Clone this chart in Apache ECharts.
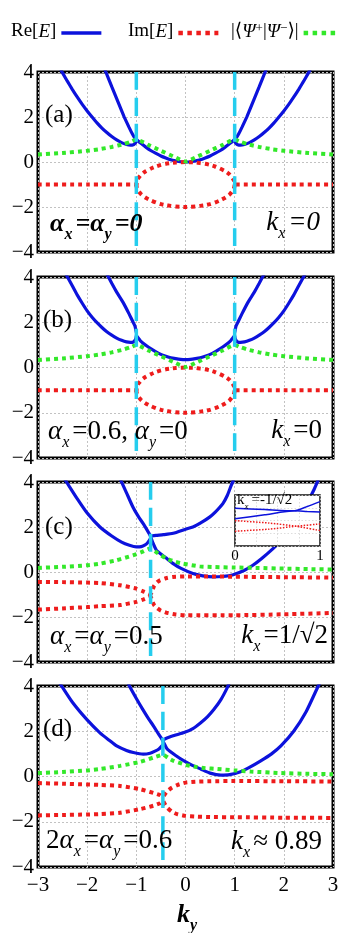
<!DOCTYPE html>
<html><head><meta charset="utf-8">
<script src="https://cdn.jsdelivr.net/npm/echarts@6/dist/echarts.min.js"></script>
<style>html,body{margin:0;padding:0;background:#fff}#c{width:356px;height:933px}</style>
</head><body><div id="c"></div>
<script>
// ---------- tick labels ----------
const xTicks = [-3, -2, -1, 0, 1, 2, 3];
const yTicks = [-4, -2, 0, 2, 4];
const insetTicks = [0, 1];

// ---------- panel (a) ----------
const aReOutL = [[-2.6,4.36],[-2.5,3.96],[-2.4,3.58],[-2.3,3.22],[-2.2,2.88],[-2.1,2.56],[-2.0,2.27],[-1.9,2.0],[-1.8,1.74],[-1.7,1.51],[-1.6,1.31],[-1.5,1.13],[-1.4,0.98],[-1.3,0.86],[-1.2,0.78],[-1.12,0.75],[-1.06,0.77],[-1.03,0.82],[-1.01,0.88],[-1.0,1.0]];
const aReOutR = [[1.0,1.0],[1.01,0.88],[1.03,0.82],[1.06,0.77],[1.12,0.75],[1.2,0.78],[1.3,0.86],[1.4,0.98],[1.5,1.13],[1.6,1.31],[1.7,1.51],[1.8,1.74],[1.9,2.0],[2.0,2.27],[2.1,2.56],[2.2,2.88],[2.3,3.22],[2.4,3.58],[2.5,3.96],[2.6,4.36]];
const aReInL = [[-1.68,4.3],[-1.62,4.0],[-1.5,3.35],[-1.4,2.82],[-1.3,2.28],[-1.25,2.02],[-1.15,1.55],[-1.08,1.24],[-1.04,1.1],[-1.0,1.0]];
const aReMid = [[-1.0,1.0],[-0.9,0.82],[-0.8,0.65],[-0.7,0.5],[-0.6,0.38],[-0.5,0.27],[-0.4,0.18],[-0.3,0.1],[-0.2,0.05],[-0.1,0.01],[0,0],[0.1,0.01],[0.2,0.05],[0.3,0.1],[0.4,0.18],[0.5,0.27],[0.6,0.38],[0.7,0.5],[0.8,0.65],[0.9,0.82],[1.0,1.0]];
const aReInR = [[1.0,1.0],[1.04,1.1],[1.08,1.24],[1.15,1.55],[1.25,2.02],[1.3,2.28],[1.4,2.82],[1.5,3.35],[1.62,4.0],[1.68,4.3]];
const aImUp = [[-3,-1],[-2,-1],[-1,-1],[-0.99,-0.86],[-0.97,-0.76],[-0.95,-0.69],[-0.9,-0.56],[-0.85,-0.47],[-0.8,-0.4],[-0.7,-0.29],[-0.6,-0.2],[-0.5,-0.13],[-0.4,-0.08],[-0.3,-0.05],[-0.2,-0.02],[-0.1,-0.01],[0,0],[0.1,-0.01],[0.2,-0.02],[0.3,-0.05],[0.4,-0.08],[0.5,-0.13],[0.6,-0.2],[0.7,-0.29],[0.8,-0.4],[0.85,-0.47],[0.9,-0.56],[0.95,-0.69],[0.97,-0.76],[0.99,-0.86],[1,-1],[2,-1],[3,-1]];
const aImDn = [[-1,-1],[-0.99,-1.14],[-0.97,-1.24],[-0.95,-1.31],[-0.9,-1.44],[-0.85,-1.53],[-0.8,-1.6],[-0.7,-1.71],[-0.6,-1.8],[-0.5,-1.87],[-0.4,-1.92],[-0.3,-1.95],[-0.2,-1.98],[-0.1,-1.99],[0,-2],[0.1,-1.99],[0.2,-1.98],[0.3,-1.95],[0.4,-1.92],[0.5,-1.87],[0.6,-1.8],[0.7,-1.71],[0.8,-1.6],[0.85,-1.53],[0.9,-1.44],[0.95,-1.31],[0.97,-1.24],[0.99,-1.14],[1,-1]];
const aOv = [[-3,0.33],[-2.5,0.4],[-2,0.5],[-1.75,0.57],[-1.5,0.67],[-1.25,0.8],[-1.1,0.91],[-1,1.0],[-0.75,0.75],[-0.5,0.5],[-0.25,0.25],[0,0.02],[0.25,0.25],[0.5,0.5],[0.75,0.75],[1,1.0],[1.1,0.91],[1.25,0.8],[1.5,0.67],[1.75,0.57],[2,0.5],[2.5,0.4],[3,0.33]];
const aEP = [-1, 1];

// ---------- panel (b) ----------
const bReOutL = [[-2.45,4.2],[-2.4,4.0],[-2.3,3.6],[-2.2,3.2],[-2.1,2.84],[-2.0,2.5],[-1.9,2.22],[-1.8,1.98],[-1.7,1.77],[-1.6,1.58],[-1.5,1.43],[-1.4,1.3],[-1.3,1.2],[-1.2,1.13],[-1.12,1.11],[-1.06,1.13],[-1.03,1.2],[-1.01,1.28],[-1.0,1.4]];
const bReOutR = [[1.0,1.4],[1.01,1.28],[1.03,1.2],[1.06,1.13],[1.12,1.11],[1.2,1.13],[1.3,1.2],[1.4,1.3],[1.5,1.43],[1.6,1.58],[1.7,1.77],[1.8,1.98],[1.9,2.22],[2.0,2.5],[2.1,2.84],[2.2,3.2],[2.3,3.6],[2.4,4.0],[2.45,4.2]];
const bReInL = [[-1.64,4.3],[-1.58,4.05],[-1.5,3.72],[-1.4,3.33],[-1.27,2.88],[-1.15,2.38],[-1.07,2.02],[-1.03,1.85],[-1.0,1.55]];
const bReMid = [[-1.0,1.42],[-0.9,1.14],[-0.8,0.97],[-0.7,0.82],[-0.6,0.69],[-0.5,0.58],[-0.4,0.5],[-0.3,0.43],[-0.2,0.39],[-0.1,0.36],[0,0.35],[0.1,0.36],[0.2,0.39],[0.3,0.43],[0.4,0.5],[0.5,0.58],[0.6,0.69],[0.7,0.82],[0.8,0.97],[0.9,1.14],[1.0,1.42]];
const bReInR = [[1.0,1.55],[1.03,1.85],[1.07,2.02],[1.15,2.38],[1.27,2.88],[1.4,3.33],[1.5,3.72],[1.58,4.05],[1.64,4.3]];
const bImUp = aImUp, bImDn = aImDn, bOv = aOv;   // identical in the figure
const bEP = [-1, 1];

// ---------- panel (c) ----------
const cReA = [[-2.5,4.27],[-2.42,4.0],[-2.2,3.25],[-2.0,2.62],[-1.74,2.0],[-1.5,1.6],[-1.3,1.33],[-1.14,1.19],[-1.0,1.12],[-0.9,1.13],[-0.83,1.19],[-0.77,1.3],[-0.71,1.5]];
const cReB = [[-1.36,4.3],[-1.31,4.05],[-1.2,3.52],[-1.07,2.89],[-0.96,2.47],[-0.86,2.15],[-0.78,1.86],[-0.72,1.63],[-0.66,1.28],[-0.59,0.96],[-0.5,0.8],[-0.4,0.63],[-0.25,0.37],[-0.1,0.17],[0.15,-0.07],[0.35,-0.17],[0.56,-0.22],[0.75,-0.2],[0.97,-0.12],[1.2,0.08],[1.37,0.3],[1.55,0.6],[1.78,1.04],[2.0,1.5],[2.2,2.05],[2.4,2.75],[2.6,3.6],[2.7,4.1],[2.75,4.35]];
const cReC = [[-0.71,1.6],[-0.6,1.63],[-0.45,1.66],[-0.25,1.72],[0,1.9],[0.15,2.0],[0.3,2.17],[0.49,2.44],[0.6,2.65],[0.76,3.04],[0.85,3.4],[0.93,3.85],[0.98,4.1]];
const cImUp = [[-3,-0.44],[-2.5,-0.45],[-2,-0.47],[-1.74,-0.49],[-1.33,-0.59],[-1,-0.74],[-0.85,-0.87],[-0.76,-0.95],[-0.71,-0.99],[-0.68,-0.85],[-0.64,-0.62],[-0.58,-0.46],[-0.52,-0.37],[-0.4,-0.28],[-0.26,-0.22],[0,-0.2],[0.5,-0.2],[1,-0.21],[2,-0.23],[3,-0.25]];
const cImDn = [[-3,-1.67],[-2.5,-1.62],[-2,-1.56],[-1.74,-1.52],[-1.33,-1.47],[-1,-1.33],[-0.85,-1.22],[-0.76,-1.14],[-0.71,-1.1],[-0.68,-1.28],[-0.64,-1.46],[-0.58,-1.6],[-0.5,-1.72],[-0.35,-1.83],[-0.2,-1.89],[0,-1.92],[1,-1.92],[2,-1.88],[3,-1.82]];
const cOv = [[-3,0.18],[-2.5,0.23],[-2,0.3],[-1.74,0.37],[-1.41,0.52],[-1.07,0.74],[-0.9,0.88],[-0.72,1.04],[-0.55,0.82],[-0.39,0.6],[-0.2,0.45],[-0.05,0.37],[0.29,0.25],[0.6,0.22],[0.96,0.2],[1.5,0.18],[2,0.15],[2.5,0.13],[3,0.11]];
const cEP = [-0.71];

// inset of (c)
const insReUp = [[0,0.96],[0.35,0.86],[0.7,0.76],[0.85,1.1],[1,1.48]];
const insReDn = [[0,0.14],[0.35,0.45],[0.7,0.76],[0.85,0.7],[1,0.66]];
const insImA = [[0,-0.01],[0.4,-0.2],[0.72,-0.45],[1,-0.79]];
const insImB = [[0,-0.84],[0.4,-0.68],[0.72,-0.45],[1,-0.27]];

// ---------- panel (d) ----------
const dReA = [[-2.62,4.35],[-2.52,4.0],[-2.3,3.28],[-2.0,2.5],[-1.74,1.93],[-1.55,1.6],[-1.4,1.35],[-1.2,1.15],[-1.06,1.06],[-0.86,0.99],[-0.72,1.03],[-0.62,1.12],[-0.54,1.22],[-0.46,1.4]];
const dReB = [[-1.2,4.3],[-1.14,4.0],[-1.0,3.45],[-0.87,2.97],[-0.75,2.55],[-0.65,2.23],[-0.55,1.88],[-0.48,1.65],[-0.42,1.4],[-0.37,1.21],[-0.2,0.93],[-0.03,0.69],[0.15,0.48],[0.31,0.33],[0.5,0.15],[0.72,0.06],[0.9,0.08],[1.12,0.21],[1.3,0.4],[1.53,0.69],[1.75,1.0],[1.94,1.35],[2.2,2.0],[2.45,2.85],[2.7,4.0],[2.78,4.35]];
const dReC = [[-0.46,1.62],[-0.35,1.72],[-0.2,1.83],[-0.03,1.94],[0.15,2.12],[0.31,2.38],[0.45,2.65],[0.58,2.97],[0.72,3.4],[0.85,3.93],[0.9,4.2]];
const dImUp = [[-3,-0.29],[-2.5,-0.32],[-2,-0.35],[-1.74,-0.37],[-1.33,-0.42],[-0.92,-0.56],[-0.65,-0.73],[-0.52,-0.82],[-0.46,-0.9],[-0.42,-0.78],[-0.37,-0.65],[-0.28,-0.5],[-0.17,-0.38],[0,-0.27],[0.2,-0.23],[0.5,-0.21],[1,-0.2],[2,-0.21],[3,-0.22]];
const dImDn = [[-3,-1.72],[-2.5,-1.7],[-2,-1.68],[-1.74,-1.66],[-1.33,-1.6],[-0.92,-1.44],[-0.65,-1.29],[-0.52,-1.18],[-0.46,-1.08],[-0.42,-1.22],[-0.37,-1.38],[-0.28,-1.55],[-0.17,-1.66],[0,-1.74],[0.2,-1.77],[0.5,-1.79],[1,-1.8],[2,-1.82],[3,-1.83]];
const dOv = [[-3,0.15],[-2.5,0.2],[-2,0.27],[-1.74,0.33],[-1.33,0.47],[-0.92,0.65],[-0.65,0.84],[-0.46,0.96],[-0.35,0.82],[-0.24,0.69],[0,0.52],[0.17,0.44],[0.4,0.37],[0.65,0.33],[1.0,0.27],[1.33,0.22],[1.94,0.15],[2.5,0.12],[3,0.1]];
const dEP = [-0.46];

// ---------- styling ----------
const FONT = "'Liberation Serif', 'DejaVu Serif', serif";
const BLUE = '#0c12dc', RED = '#ee1c1c', GREEN = '#33e82a', CYAN = '#25cdee';
const grids = [
  {left: 38, top: 72, width: 295, height: 180},
  {left: 38, top: 277, width: 295, height: 181},
  {left: 38, top: 482, width: 295, height: 180},
  {left: 38, top: 686, width: 295, height: 181}
];
const minus = v => String(v).replace('-', '\u2212');
const gridLine = {show: true, lineStyle: {color: '#c2c2c2', width: 1, type: [2, 2]}};

const option = {
  animation: false,
  backgroundColor: '#fff',
  textStyle: {fontFamily: FONT},
  grid: grids.map(g => Object.assign({show: true, borderColor: '#000', borderWidth: 3, backgroundColor: 'transparent'}, g))
    .concat([{left: 235, top: 495, width: 85, height: 51, show: true, borderColor: '#111', borderWidth: 1.5, backgroundColor: '#fff', z: 10}]),
  xAxis: grids.map((g, i) => ({
    type: 'value', gridIndex: i, min: xTicks[0], max: xTicks[xTicks.length - 1], interval: 1,
    axisLine: {show: false}, axisTick: {show: false}, splitLine: gridLine,
    axisLabel: {show: i === 3, fontFamily: FONT, fontSize: 21, color: '#000', margin: 8, formatter: minus}
  })).concat([{
    type: 'value', gridIndex: 4, min: 0, max: 1, interval: 0.25, z: 11,
    axisLine: {show: false}, axisTick: {show: false},
    splitLine: {show: true, lineStyle: {color: '#d4d4d4', width: 0.8, type: [1.5, 2]}},
    axisLabel: {fontFamily: FONT, fontSize: 15, color: '#000', margin: 3,
      formatter: v => insetTicks.indexOf(v) >= 0 ? String(v) : ''}
  }]),
  yAxis: grids.map((g, i) => ({
    type: 'value', gridIndex: i, min: yTicks[0], max: yTicks[yTicks.length - 1], interval: 2,
    axisLine: {show: false}, axisTick: {show: false}, splitLine: gridLine,
    axisLabel: {fontFamily: FONT, fontSize: 21, color: '#000', margin: 4, formatter: minus}
  })).concat([{
    type: 'value', gridIndex: 4, min: -2, max: 2, interval: 1, z: 11,
    axisLine: {show: false}, axisTick: {show: false}, axisLabel: {show: false},
    splitLine: {show: true, lineStyle: {color: '#d4d4d4', width: 0.8, type: [1.5, 2]}}
  }]),
  legend: [],
  series: [],
  graphic: []
};

function ln(g, name, data, color, width, type, z) {
  return {type: 'line', name: name, xAxisIndex: g, yAxisIndex: g, data: data,
    symbol: 'none', showSymbol: false, smooth: 0.2, clip: true, silent: true, z: z || 3,
    lineStyle: {color: color, width: width, type: type, cap: 'butt'}, itemStyle: {color: color}};
}
const RE = 'Re', IM = 'Im', OV = 'Ov';
const dots = [4, 4];
function panel(g, reList, imList, ov, eps) {
  reList.forEach(d => option.series.push(ln(g, RE, d, BLUE, 3.2, 'solid', 3)));
  imList.forEach(d => option.series.push(ln(g, IM, d, RED, 4, dots, 4)));
  option.series.push(ln(g, OV, ov, GREEN, 4, dots, 4));
  eps.forEach(x => option.series.push(ln(g, 'ep', [[x, 4], [x, -4]], CYAN, 3.5, [18, 8], 6)));
}
panel(0, [aReOutL, aReInL.concat(aReMid, aReInR), aReOutR], [aImUp, aImDn], aOv, aEP);
panel(1, [bReOutL, bReInL, bReMid, bReInR, bReOutR], [bImUp, bImDn], bOv, bEP);
panel(2, [cReA, cReB, cReC], [cImUp, cImDn], cOv, cEP);
panel(3, [dReA, dReB, dReC], [dImUp, dImDn], dOv, dEP);
// inset
[insReUp, insReDn].forEach(d => option.series.push(ln(4, 'insRe', d, BLUE, 1.5, 'solid', 12)));
[insImA, insImB].forEach(d => option.series.push(ln(4, 'insIm', d, RED, 1.5, [1.5, 1.5], 12)));

// legends
const legRich = {
  n: {fontFamily: FONT, fontSize: 19, color: '#000', lineHeight: 22, verticalAlign: 'top'},
  i: {fontFamily: FONT, fontSize: 19, fontStyle: 'italic', color: '#000', lineHeight: 22, verticalAlign: 'top'},
  p: {fontFamily: FONT, fontSize: 13, color: '#000', lineHeight: 13, verticalAlign: 'top'}
};
const legFmt = {
  Re: '{n|Re[}{i|E}{n|]}',
  Im: '{n|Im[}{i|E}{n|]}',
  Ov: '{n||\u27E8}{i|\u03A8}{p|+}{n||}{i|\u03A8}{p|\u2212}{n|\u27E9|}'
};
[[RE, 6, 40, BLUE, 3.5, 'solid'], [IM, 123, 40, RED, 4.5, [4.5, 4.5]], [OV, 226, 36, GREEN, 4.5, [4.5, 4.5]]]
  .forEach(([nm, left, w, col, lw, lt]) => {
  option.legend.push({data: [nm], left: left, top: 17, align: 'right', itemWidth: w, itemHeight: 14,
    selectedMode: false, itemStyle: {opacity: 0},
    lineStyle: {color: col, width: lw, type: lt, cap: 'butt'},
    formatter: n => legFmt[n], textStyle: {rich: legRich, padding: [0, 0, 0, 0]}});
});

// annotations
function txt(pos, text, rich, z) {
  return Object.assign({type: 'text', z: z || 20, silent: true, style: {text: text, rich: rich}}, pos);
}
function mkRich(fs, bold) {
  const w = bold ? 'bold' : 'normal';
  const ss = Math.round(fs * 0.6);
  return {
    n: {fontFamily: FONT, fontSize: fs, fontWeight: w, color: '#000', lineHeight: fs + 4, verticalAlign: 'top'},
    i: {fontFamily: FONT, fontSize: fs, fontWeight: w, fontStyle: 'italic', color: '#000', lineHeight: fs + 4, verticalAlign: 'top'},
    s: {fontFamily: FONT, fontSize: ss, fontWeight: w, fontStyle: 'italic', color: '#000',
        lineHeight: ss, padding: [Math.round(fs * 0.62), 3, 0, 0], verticalAlign: 'top'}
  };
}
const R27 = mkRich(27, false), B26 = mkRich(26, true), R25 = mkRich(25, false), R15 = mkRich(15, false), B26y = mkRich(26, true);
const G = option.graphic;
G.push(txt({left: 45, top: 103}, '{n|(a)}', R25));
G.push(txt({left: 43, top: 308}, '{n|(b)}', R25));
G.push(txt({left: 45, top: 515}, '{n|(c)}', R25));
G.push(txt({left: 43, top: 717}, '{n|(d)}', R25));
G.push(txt({left: 50, top: 211}, '{i|\u03B1}{s|x}{i|=\u03B1}{s|y}{i|=0}', B26));
G.push(txt({left: 48, top: 418}, '{i|\u03B1}{s|x}{n|=0.6, }{i|\u03B1}{s|y}{n|=0}', R27));
G.push(txt({left: 50, top: 623}, '{i|\u03B1}{s|x}{n|=}{i|\u03B1}{s|y}{n|=0.5}', R27));
G.push(txt({left: 46, top: 827}, '{n|2}{i|\u03B1}{s|x}{n|=}{i|\u03B1}{s|y}{n|=0.6}', R27));
G.push(txt({right: 36, top: 209}, '{i|k}{s|x}{i|=0}', R27));
G.push(txt({right: 34, top: 417}, '{i|k}{s|x}{n|=0}', R27));
G.push(txt({right: 28, top: 622}, '{i|k}{s|x}{n|=1/\u221A2}', R27));
G.push(txt({right: 34, top: 828}, '{i|k}{s|x}{n|\u2248 0.89}', R27));
G.push(txt({left: 237, top: 493}, '{n|k}{s|x}{n|=-1/\u221A2}', R15, 30));
G.push(txt({left: 177, top: 902}, '{i|k}{s|y}', B26y));

echarts.init(document.getElementById('c'), null, {renderer: 'canvas'}).setOption(option);
</script></body></html>
